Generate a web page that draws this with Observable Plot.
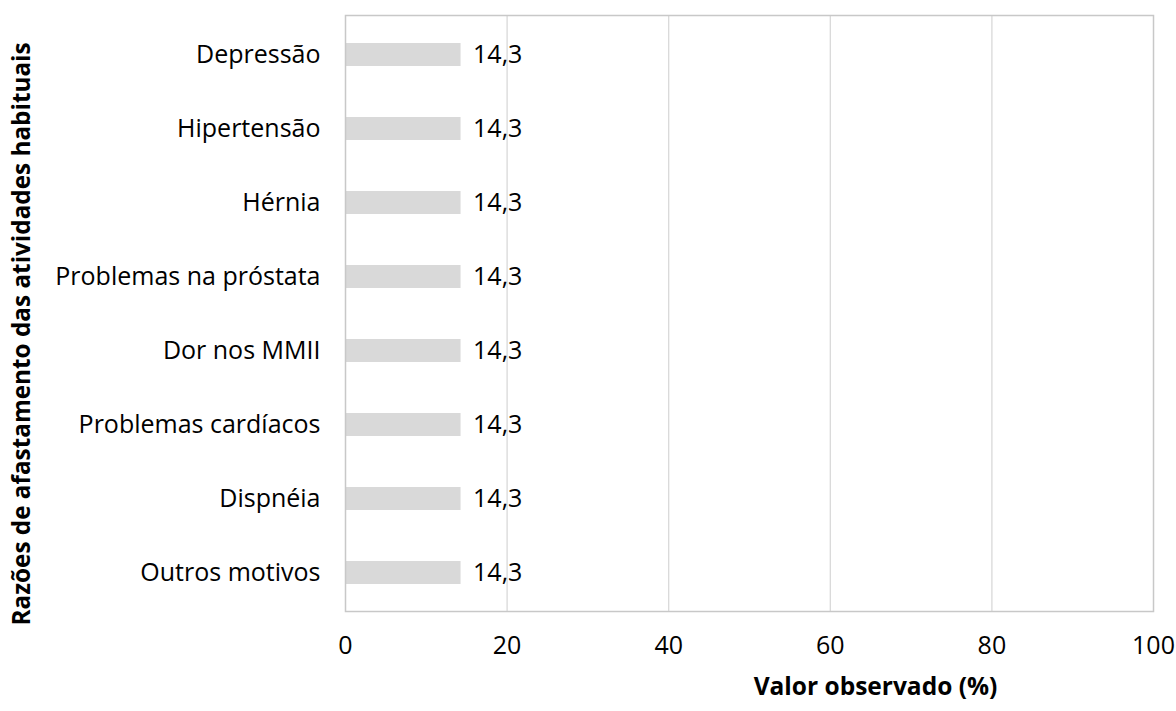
<!DOCTYPE html>
<html><head><meta charset="utf-8">
<script src="https://cdn.jsdelivr.net/npm/d3@7"></script>
<script src="https://cdn.jsdelivr.net/npm/@observablehq/plot@0.6"></script>
<style>body{margin:0;background:#fff;}</style>
</head><body><div id="chart"></div>
<script>
const categories = ["Depressão","Hipertensão","Hérnia","Problemas na próstata","Dor nos MMII","Problemas cardíacos","Dispnéia","Outros motivos"];
const values = [14.3,14.3,14.3,14.3,14.3,14.3,14.3,14.3];
const xTicks = [0,20,40,60,80,100];
const xLabel = "Valor observado (%)";
const yLabel = "Razões de afastamento das atividades habituais";

const data = categories.map((c,i)=>({cat:c, val:values[i]}));
const font = "'Open Sans', sans-serif";

const chart = Plot.plot({
  width: 1176, height: 711,
  marginLeft: 345, marginRight: 23, marginTop: 15, marginBottom: 100,
  style: {fontFamily: font, fontSize: "25px", color: "#000", background: "#fff"},
  x: {domain: [0,100], ticks: xTicks, grid: false},
  y: {domain: categories, paddingInner: 0.69, paddingOuter: 0.345},
  marks: [
    Plot.ruleX(xTicks.filter(t=>t>0 && t<100), {stroke:"#d9d9d9", strokeWidth:1.3}),
    Plot.barX(data, {x:"val", y:"cat", fill:"#d9d9d9"}),
    Plot.text(data, {x:"val", y:"cat", text: d=>d.val.toFixed(1).replace(".",","), textAnchor:"start", dx:12, fill:"#000", fontSize:25}),
    Plot.frame({stroke:"#c8c8c8", strokeWidth:1.5}),
    Plot.axisX({ticks: xTicks, tickSize:0, tickPadding:25, label:null, fontSize:25, tickFormat: d=>String(d)}),
    Plot.axisY({tickSize:0, tickPadding:25, label:null, fontSize:25}),
    Plot.text([xLabel], {frameAnchor:"bottom", dx:126, dy:83, fontWeight:"bold", fontSize:24.5, fill:"#000"}),
    Plot.text([yLabel], {frameAnchor:"left", textAnchor:"middle", rotate:-90, dx:-323, dy:20.5, fontWeight:"bold", fontSize:24.3, fill:"#000"})
  ]
});
document.getElementById("chart").append(chart);
</script>
</body></html>
